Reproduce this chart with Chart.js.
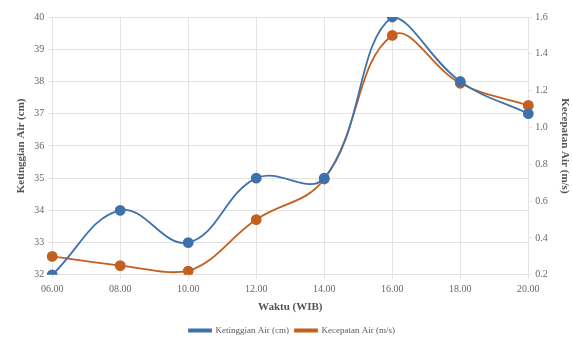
<!DOCTYPE html>
<html>
<head>
<meta charset="utf-8">
<script src="https://cdn.jsdelivr.net/npm/chart.js@4/dist/chart.umd.min.js"></script>
<style>
  html, body { margin: 0; padding: 0; background: #ffffff; }
  #wrap { width: 572px; height: 337px; position: relative; }
</style>
</head>
<body>
<div id="wrap"><canvas id="c"></canvas></div>
<script>
// Jam pengamatan
const waktu = ['06.00', '08.00', '10.00', '12.00', '14.00', '16.00', '18.00', '20.00'];
// Ketinggian air (cm)
const ketinggian = [32, 34, 33, 35, 35, 40, 38, 37];
// Kecepatan air (m/s)
const kecepatan = [0.30, 0.25, 0.22, 0.50, 0.72, 1.50, 1.24, 1.12];

const BLUE = '#3d72ad';
const ORANGE = '#c4601f';
const GRID = '#e3e3e3';
const SERIF = '"Liberation Serif", "DejaVu Serif", serif';

new Chart(document.getElementById('c'), {
  type: 'line',
  data: {
    labels: waktu,
    datasets: [
      {
        label: 'Ketinggian Air (cm)',
        data: ketinggian,
        yAxisID: 'y',
        borderColor: BLUE,
        backgroundColor: BLUE,
        pointBackgroundColor: BLUE,
        pointBorderColor: BLUE,
        borderWidth: 1.8,
        pointRadius: 4.5,
        tension: 0.4
      },
      {
        label: 'Kecepatan Air (m/s)',
        data: kecepatan,
        yAxisID: 'y1',
        borderColor: ORANGE,
        backgroundColor: ORANGE,
        pointBackgroundColor: ORANGE,
        pointBorderColor: ORANGE,
        borderWidth: 1.8,
        pointRadius: 4.5,
        tension: 0.4
      }
    ]
  },
  options: {
    responsive: true,
    maintainAspectRatio: false,
    animation: false,
    layout: { padding: { top: 17, right: 1, bottom: -8, left: 13 } },
    plugins: {
      legend: {
        position: 'bottom',
        labels: {
          boxWidth: 22,
          boxHeight: 2,
          padding: 6,
          color: '#595959',
          font: { family: SERIF, size: 9 }
        }
      },
      tooltip: { enabled: false }
    },
    scales: {
      x: {
        offset: false,
        grid: { color: GRID, tickLength: 4 },
        border: { color: GRID },
        ticks: { color: '#666', font: { family: SERIF, size: 10 }, padding: 5, maxRotation: 0 },
        title: { display: true, text: 'Waktu (WIB)', color: '#555', font: { family: SERIF, size: 11, weight: 'bold' }, padding: { top: 0, bottom: 6 } }
      },
      y: {
        position: 'left',
        min: 32, max: 40,
        ticks: { stepSize: 1, color: '#666', font: { family: SERIF, size: 10 }, padding: 4 },
        grid: { color: GRID, tickLength: 4 },
        border: { color: GRID },
        title: { display: true, text: 'Ketinggian Air (cm)', color: '#555', font: { family: SERIF, size: 11, weight: 'bold' }, padding: { top: 2, bottom: 2 } }
      },
      y1: {
        position: 'right',
        min: 0.2, max: 1.6,
        ticks: { stepSize: 0.2, color: '#666', font: { family: SERIF, size: 10 }, padding: 3, callback: v => v.toFixed(1) },
        grid: { drawOnChartArea: false, color: GRID, tickLength: 4 },
        border: { color: GRID },
        title: { display: true, text: 'Kecepatan Air (m/s)', color: '#555', font: { family: SERIF, size: 11, weight: 'bold' }, padding: { top: 0, bottom: 7 } }
      }
    }
  }
});
</script>
</body>
</html>
